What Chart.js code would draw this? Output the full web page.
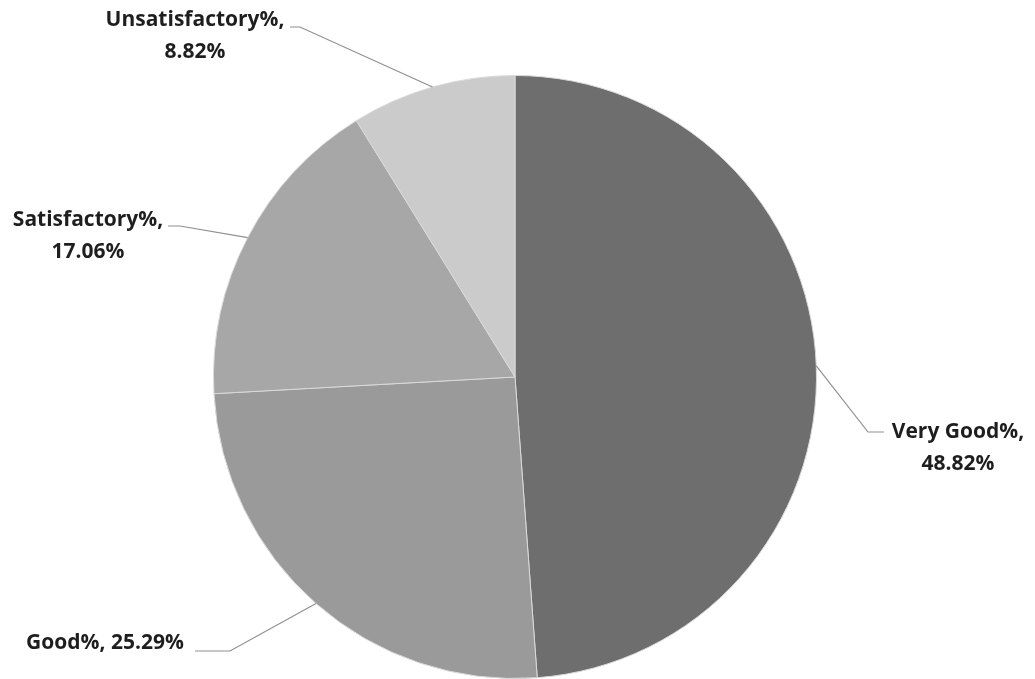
<!DOCTYPE html>
<html>
<head>
<meta charset="utf-8">
<script src="https://cdn.jsdelivr.net/npm/chart.js@4/dist/chart.umd.min.js"></script>
<style>
html,body{margin:0;padding:0;background:#fff;}
#wrap{width:1035px;height:679px;position:relative;}
</style>
</head>
<body>
<div id="wrap"><canvas id="c" width="1035" height="679"></canvas></div>
<script>
const categories = ["Very Good%", "Good%", "Satisfactory%", "Unsatisfactory%"];
const values = [48.82, 25.29, 17.06, 8.82];
const colors = ["#6e6e6e", "#9a9a9a", "#a7a7a7", "#cbcbcb"];

// label layout: text lines, text anchor (center x, first line y), leader elbow & end
const labelLayout = [
  {lines: (c, v) => [c + ",", v.toFixed(2) + "%"], tx: 958, ty: 432, elbow: [868, 432], end: [884, 432]},
  {lines: (c, v) => [c + ", " + v.toFixed(2) + "%"], tx: 105, ty: 643, elbow: [230, 651], end: [195, 651]},
  {lines: (c, v) => [c + ",", v.toFixed(2) + "%"], tx: 88, ty: 220, elbow: [180, 226], end: [168, 226]},
  {lines: (c, v) => [c + ",", v.toFixed(2) + "%"], tx: 195, ty: 20, elbow: [300, 27], end: [290, 27]}
];

const labelPlugin = {
  id: 'pieLabels',
  afterDatasetsDraw(chart) {
    const ctx = chart.ctx;
    const meta = chart.getDatasetMeta(0);
    ctx.save();
    meta.data.forEach((arc, i) => {
      const L = labelLayout[i];
      const a = (arc.startAngle + arc.endAngle) / 2;
      const sx = arc.x + Math.cos(a) * arc.outerRadius;
      const sy = arc.y + Math.sin(a) * arc.outerRadius;
      ctx.strokeStyle = '#8f8f8f';
      ctx.lineWidth = 1.2;
      ctx.beginPath();
      ctx.moveTo(sx, sy);
      ctx.lineTo(L.elbow[0], L.elbow[1]);
      ctx.lineTo(L.end[0], L.end[1]);
      ctx.stroke();
      ctx.fillStyle = '#1e1e1e';
      ctx.font = 'bold 21px "Open Sans", sans-serif';
      ctx.textAlign = 'center';
      ctx.textBaseline = 'middle';
      const lines = L.lines(categories[i], values[i]);
      lines.forEach((t, k) => ctx.fillText(t, L.tx, L.ty + k * 32));
    });
    ctx.restore();
  }
};

new Chart(document.getElementById('c'), {
  type: 'pie',
  data: {
    labels: categories,
    datasets: [{
      data: values,
      backgroundColor: colors,
      borderColor: '#d9d9d9',
      borderWidth: 1
    }]
  },
  options: {
    responsive: false,
    animation: false,
    layout: {padding: {top: 75, bottom: 0, left: 0, right: 5}},
    plugins: {legend: {display: false}, tooltip: {enabled: false}}
  },
  plugins: [labelPlugin]
});
</script>
</body>
</html>
